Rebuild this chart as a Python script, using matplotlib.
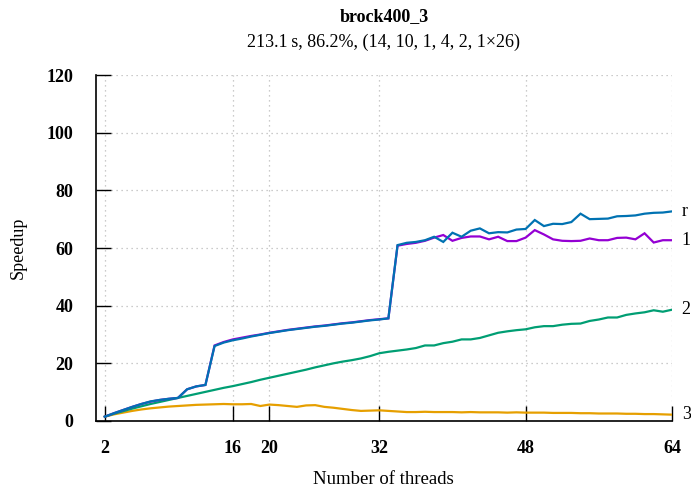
import matplotlib
matplotlib.use("Agg")
import matplotlib.pyplot as plt

plt.rcParams['font.family'] = ['Liberation Serif', 'DejaVu Serif']

threads = list(range(2, 65))

speedup_r = [1.5, 2.7, 3.8, 4.9, 5.9, 6.8, 7.3, 7.7, 8.0, 11.0, 12.0, 12.5,
             26.0, 27.2, 28.0, 28.6, 29.3, 29.9, 30.5, 31.0, 31.5, 31.9,
             32.3, 32.7, 33.0, 33.4, 33.8, 34.1, 34.5, 34.9, 35.2, 35.6,
             61.0, 61.8, 62.1, 62.7, 63.9, 62.1, 65.3, 63.9, 66.0, 66.8, 65.1, 65.5,
             65.4, 66.4, 66.6,
             69.7, 67.6, 68.4, 68.3, 69.0, 71.9, 70.0, 70.1, 70.2,
             71.0, 71.1, 71.3, 71.9, 72.2, 72.3, 72.7]
speedup_1 = [1.5, 2.7, 3.8, 4.9, 5.9, 6.7, 7.3, 7.7, 8.0, 11.0, 12.0, 12.5,
             26.2, 27.4, 28.3, 28.9, 29.5, 30.0, 30.6, 31.1, 31.6, 32.0,
             32.4, 32.8, 33.1, 33.5, 33.9, 34.2, 34.6, 35.0, 35.3, 35.6,
             60.8, 61.4, 61.8, 62.5, 63.6, 64.5, 62.5, 63.5, 64.0, 64.0, 63.0, 63.9,
             62.4, 62.4, 63.6,
             66.2, 64.7, 63.0, 62.5, 62.4, 62.5, 63.3, 62.7, 62.7,
             63.5, 63.6, 63.0, 65.1, 61.9, 62.7, 62.7]
speedup_2 = [1.5, 2.5, 3.4, 4.3, 5.1, 5.9, 6.6, 7.3, 8.0, 8.7, 9.4, 10.1,
             10.8, 11.5, 12.1, 12.8, 13.5, 14.3, 15.0, 15.7, 16.4, 17.1, 17.8, 18.6,
             19.3, 20.0, 20.6, 21.1, 21.7, 22.5, 23.5, 24.0, 24.4, 24.8, 25.3, 26.2,
             26.2, 27.0, 27.5, 28.3, 28.3, 28.8, 29.7, 30.6, 31.1, 31.5, 31.8, 32.5,
             32.9, 32.9, 33.4, 33.7, 33.8, 34.7, 35.2, 35.9, 35.9, 36.8, 37.3, 37.7,
             38.4, 37.9, 38.6]
speedup_3 = [1.5, 2.3, 2.9, 3.5, 4.0, 4.4, 4.7, 5.0, 5.2, 5.4, 5.6, 5.7,
             5.8, 5.9, 5.8, 5.8, 5.9, 5.2, 5.7, 5.5, 5.2, 4.9, 5.4, 5.5,
             4.9, 4.6, 4.2, 3.8, 3.5, 3.6, 3.7, 3.5, 3.3, 3.1, 3.1, 3.2,
             3.1, 3.1, 3.1, 3.0, 3.1, 3.0, 3.0, 3.0, 2.9, 3.0, 2.9, 2.9,
             2.9, 2.8, 2.8, 2.8, 2.7, 2.7, 2.6, 2.6, 2.6, 2.5, 2.5, 2.4,
             2.4, 2.3, 2.2]

xticks = [2, 16, 20, 32, 48, 64]
yticks = [0, 20, 40, 60, 80, 100, 120]

fig = plt.figure(figsize=(6.91, 4.88), dpi=100)
ax = fig.add_axes([0.1384, 0.1373, 0.9725 - 0.1384, 0.8463 - 0.1373])

series = [
    (speedup_3, '#e69f00', '3'),
    (speedup_2, '#009e73', '2'),
    (speedup_1, '#9400d3', '1'),
    (speedup_r, '#0072b2', 'r'),
]
for vals, col, lab in series:
    ax.plot(threads, vals, color=col, lw=1.6, solid_joinstyle='miter', zorder=3)
    ax.annotate(lab, xy=(threads[-1], vals[-1]), xytext=(7, 0),
                textcoords='offset points', ha='left', va='center',
                fontsize=13, color='black', annotation_clip=False)

ax.set_xlim(1, 64)
ax.set_ylim(0, 120)
ax.set_xticks(xticks)
ax.set_yticks(yticks)
ax.tick_params(direction='in', length=10.5, width=1.0, labelsize=13, color='black')
ax.tick_params(axis='x', pad=14)
ax.tick_params(axis='y', pad=16)
for lbl in ax.get_xticklabels() + ax.get_yticklabels():
    lbl.set_fontweight('bold')

for s in ['top', 'right']:
    ax.spines[s].set_visible(False)
for s in ['left', 'bottom']:
    ax.spines[s].set_linewidth(1.2)

ax.grid(True, color='#bbbbbb', linestyle=(0, (1, 3)), linewidth=0.9, zorder=0)
ax.set_axisbelow(True)

ax.set_xlabel('Number of threads', fontsize=13.5, va='center')
ax.xaxis.set_label_coords(0.5, (421 - 480) / 346)
ax.set_ylabel('Speedup', fontsize=13, va='center')
ax.yaxis.set_label_coords((18 - 95.65) / 576.35, 0.5)

fig.text(0.5556, 1 - 17 / 488, 'brock400_3', ha='center', va='center',
         fontsize=13, fontweight='bold')
fig.text(0.5556, 1 - 42 / 488, '213.1\u2009s, 86.2%, (14, 10, 1, 4, 2, 1\u00d726)',
         ha='center', va='center', fontsize=13)

fig.savefig('out.png', dpi=100)
